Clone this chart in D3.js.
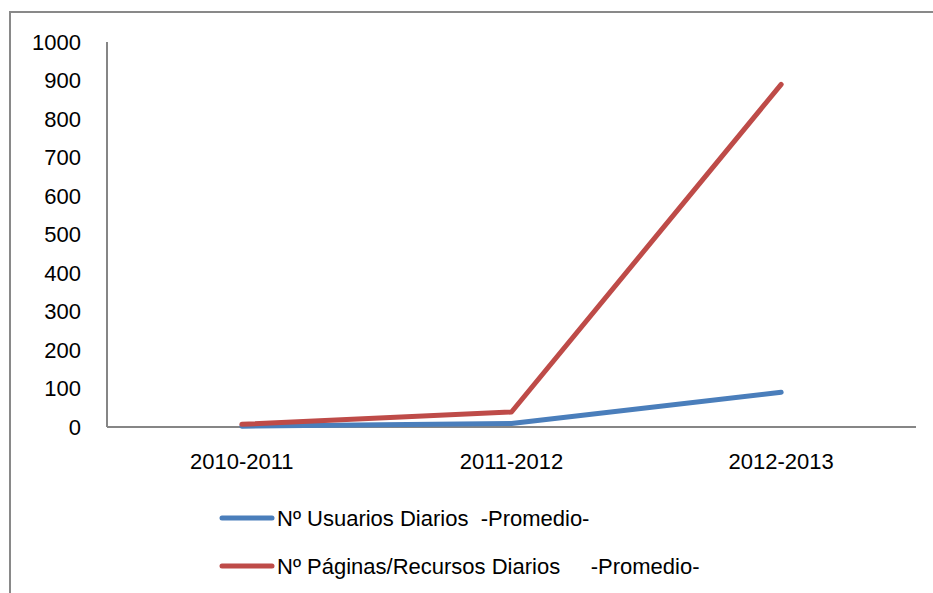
<!DOCTYPE html>
<html>
<head>
<meta charset="utf-8">
<script src="https://cdn.jsdelivr.net/npm/d3@7"></script>
<style>
body { margin: 0; background: #fff; }
text { font-family: "Liberation Sans", Arial, sans-serif; fill: #000; }
</style>
</head>
<body>
<svg id="chart" width="933" height="593"></svg>
<script>
var years = ["2010-2011", "2011-2012", "2012-2013"];
var usuarios = [2, 9, 90];
var paginas = [7, 39, 890];
var yTicks = [0, 100, 200, 300, 400, 500, 600, 700, 800, 900, 1000];
var seriesNames = ["Nº Usuarios Diarios  -Promedio-", "Nº Páginas/Recursos Diarios     -Promedio-"];
var colors = ["#4A7EBB", "#BE4B48"];

var svg = d3.select("#chart");

// outer chart border (cut by the window on right and bottom)
svg.append("rect")
    .attr("x", 10).attr("y", 12)
    .attr("width", 1000).attr("height", 700)
    .attr("fill", "none")
    .attr("stroke", "#898989")
    .attr("stroke-width", 2);

var x = d3.scaleBand().domain(years).range([107, 916]);
var y = d3.scaleLinear().domain([0, 1000]).range([427, 42]);

// y axis
svg.append("line")
    .attr("x1", 107).attr("x2", 107)
    .attr("y1", y(1000)).attr("y2", y(0))
    .attr("stroke", "#868686").attr("stroke-width", 2);

svg.append("g").selectAll("text")
    .data(yTicks)
  .enter().append("text")
    .attr("x", 81)
    .attr("y", function(d) { return y(d); })
    .attr("dy", "0.35em")
    .attr("text-anchor", "end")
    .style("font-size", "22px")
    .text(function(d) { return d; });

// x axis
svg.append("line")
    .attr("x1", 107).attr("x2", 916)
    .attr("y1", y(0)).attr("y2", y(0))
    .attr("stroke", "#868686").attr("stroke-width", 2);

svg.append("g").selectAll("text")
    .data(years)
  .enter().append("text")
    .attr("x", function(d) { return x(d) + x.bandwidth() / 2; })
    .attr("y", 469)
    .attr("text-anchor", "middle")
    .style("font-size", "22px")
    .text(function(d) { return d; });

var line = d3.line()
    .x(function(d, i) { return x(years[i]) + x.bandwidth() / 2; })
    .y(function(d) { return y(d); });

[usuarios, paginas].forEach(function(s, i) {
  svg.append("path")
      .attr("d", line(s))
      .attr("fill", "none")
      .attr("stroke", colors[i])
      .attr("stroke-width", 5)
      .attr("stroke-linejoin", "round")
      .attr("stroke-linecap", "round");
});

// legend
var legend = svg.append("g").selectAll("g")
    .data(seriesNames)
  .enter().append("g")
    .attr("transform", function(d, i) { return "translate(222," + (518 + i * 48) + ")"; });
legend.append("line")
    .attr("x1", 0).attr("x2", 50)
    .attr("stroke", function(d, i) { return colors[i]; })
    .attr("stroke-width", 5)
    .attr("stroke-linecap", "round");
legend.append("text")
    .attr("x", 55)
    .attr("dy", "0.35em")
    .style("font-size", "22px")
    .style("white-space", "pre")
    .text(function(d) { return d; });
</script>
</body>
</html>
